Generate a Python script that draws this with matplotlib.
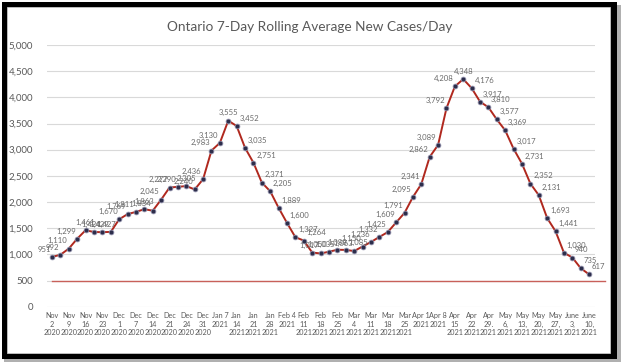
import matplotlib.pyplot as plt
from matplotlib.patches import Rectangle

# 7-day rolling average, two readings per week
cases = [951, 992, 1110, 1299, 1461, 1427, 1424, 1429, 1670, 1769,
         1811, 1863, 1834, 2045, 2277, 2290, 2305, 2240, 2436, 2983,
         3130, 3555, 3452, 3035, 2751, 2371, 2205, 1889, 1600, 1327,
         1264, 1035, 1017, 1050, 1088, 1085, 1063, 1150, 1236, 1332,
         1425, 1609, 1791, 2095, 2341, 2862, 3089, 3792, 4208, 4348,
         4176, 3917, 3810, 3577, 3369, 3017, 2731, 2352, 2131, 1693,
         1441, 1030, 940, 735, 617]

week_labels = ["Nov\n2\n2020", "Nov\n9\n2020", "Nov\n16\n2020", "Nov\n23\n2020",
               "Dec\n1\n2020", "Dec\n7\n2020", "Dec\n14\n2020", "Dec\n21\n2020",
               "Dec\n24\n2020", "Dec\n31\n2020", "Jan 7\n2021", "Jan\n14\n2021",
               "Jan\n21\n2021", "Jan\n28\n2021", "Feb 4\n2021", "Feb\n11\n2021",
               "Feb\n18\n2021", "Feb\n25\n2021", "Mar\n4\n2021", "Mar\n11\n2021",
               "Mar\n18\n2021", "Mar\n25\n2021", "Apr 1\n2021", "Apr 8\n2021",
               "Apr\n15\n2021", "Apr\n22\n2021", "Apr\n29.\n2021", "May\n6,\n2021",
               "May\n13,\n2021", "May\n20,\n2021", "May\n27,\n2021", "June\n3,\n2021",
               "June\n10,\n2021"]

target = 500

plt.rcParams['font.family'] = ['Lato', 'DejaVu Sans']

fig = plt.figure(figsize=(6.24, 3.64), dpi=100)
W, H = 624, 364

def px_rect(x0, y0, x1, y1, **kw):
    return Rectangle((x0 / W, 1 - y1 / H), (x1 - x0) / W, (y1 - y0) / H,
                     transform=fig.transFigure, **kw)

# screenshot frame with shadow
fig.patches.append(px_rect(4, 5, 621, 362, facecolor='#b0b0b0', edgecolor='none', zorder=-3))
fig.patches.append(px_rect(2, 2, 617, 359, facecolor='black', edgecolor='none', zorder=-2))
fig.patches.append(px_rect(7, 7, 610, 353, facecolor='white', edgecolor='#c8c8c8',
                           linewidth=0.6, zorder=-1))

ax = fig.add_axes([47 / W, 1 - 306.7 / H, 548 / W, (306.7 - 45) / H])
ax.patch.set_alpha(0)

x = list(range(len(cases)))
ax.plot(x, cases, color='#B0281E', linewidth=1.4, marker='o', markersize=3.4,
        markerfacecolor='#2C2D4A', markeredgecolor='#8A8AA6', markeredgewidth=0.6,
        zorder=4)

ax.axhline(target, xmin=0.01, xmax=1.018, color='#C8605A', linewidth=1.0,
           clip_on=False, zorder=3)

for i, v in enumerate(cases):
    nxt = cases[i + 1] if i + 1 < len(cases) else v - 1
    prv = cases[i - 1] if i > 0 else v - 1
    if v >= nxt and v >= prv:
        ha, dx = 'center', 0
    elif nxt >= v:
        ha, dx = 'right', -1
    else:
        ha, dx = 'left', 2
    ax.annotate(f"{v:,}", (i, v), xytext=(dx, 3), textcoords='offset points',
                ha=ha, va='bottom', fontsize=5.6, color='#6A6A6A', zorder=5)

ax.set_xlim(-0.6, 64.7)
ax.set_ylim(0, 5000)
ax.set_yticks(range(0, 5001, 500))
ax.set_yticklabels([f"{t:,}" for t in range(0, 5001, 500)])
ax.set_xticks(x[::2])
ax.set_xticklabels(week_labels, va='top', linespacing=1.25)
ax.tick_params(axis='x', labelsize=5.2, colors='#595959', length=0, pad=4)
ax.tick_params(axis='y', labelsize=7, colors='#595959', length=0, pad=10)

ax.grid(axis='y', color='#D9D9D9', linewidth=0.8)
ax.set_axisbelow(True)
for s in ax.spines.values():
    s.set_visible(False)

fig.text(0.497, 1 - 27 / H, "Ontario 7-Day Rolling Average New Cases/Day",
         ha='center', va='center', fontsize=9.8, color='#595959')

fig.savefig("out.png", dpi=100)
